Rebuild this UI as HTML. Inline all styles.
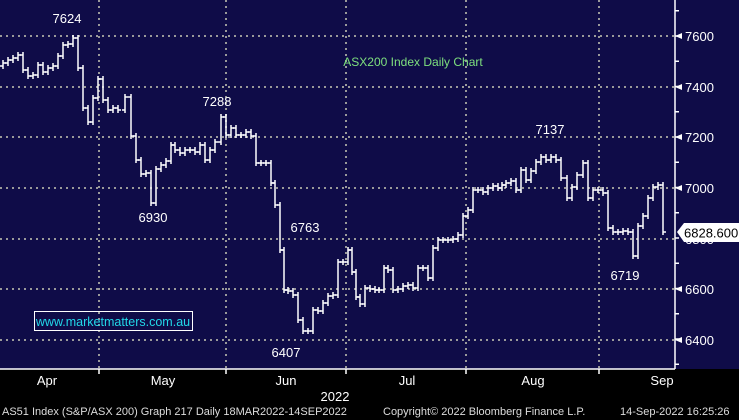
<!DOCTYPE html>
<html><head><style>
body{margin:0;background:#000;}
svg{display:block;font-family:"Liberation Sans",sans-serif;}
</style></head><body>
<svg id="s" width="739" height="420" xmlns="http://www.w3.org/2000/svg">
<rect width="739" height="420" fill="#000"/>
<rect x="0" y="0" width="739" height="369" fill="#0f0c48"/>
<g stroke="#9a9a9a" stroke-width="2" stroke-dasharray="2,4">
<line x1="0" y1="36" x2="675" y2="36"/><line x1="0" y1="87" x2="675" y2="87"/>
<line x1="0" y1="137" x2="675" y2="137"/><line x1="0" y1="188" x2="675" y2="188"/>
<line x1="0" y1="239" x2="675" y2="239"/><line x1="0" y1="289" x2="675" y2="289"/>
<line x1="0" y1="340" x2="675" y2="340"/>
<line x1="99" y1="0" x2="99" y2="369"/><line x1="226" y1="0" x2="226" y2="369"/>
<line x1="346" y1="0" x2="346" y2="369"/><line x1="466" y1="0" x2="466" y2="369"/>
<line x1="599" y1="0" x2="599" y2="369"/>
</g>
<g id="bars" stroke="#fff" stroke-width="1.5" fill="none"></g>
<line x1="675" y1="0" x2="675" y2="369" stroke="#fff" stroke-width="1.5"/>
<line x1="0" y1="369" x2="675" y2="369" stroke="#fff" stroke-width="1.5"/>
<g stroke="#fff" stroke-width="1.5">
<line x1="99" y1="369" x2="99" y2="374"/><line x1="226" y1="369" x2="226" y2="374"/>
<line x1="346" y1="369" x2="346" y2="374"/><line x1="466" y1="369" x2="466" y2="374"/>
<line x1="599" y1="369" x2="599" y2="374"/>
</g>
<g id="ticks" stroke="#fff" stroke-width="1.5"></g>
<g fill="#fff" font-size="13">
<text x="685" y="41">7600</text><text x="685" y="92">7400</text><text x="685" y="142">7200</text>
<text x="685" y="193">7000</text><text x="685" y="294">6600</text><text x="685" y="345">6400</text>
<text x="685" y="244">6800</text>
</g>
<polygon points="675,36 682,33 682,39" fill="#fff"/><polygon points="675,87 682,84 682,90" fill="#fff"/>
<polygon points="675,137 682,134 682,140" fill="#fff"/><polygon points="675,188 682,185 682,191" fill="#fff"/>
<polygon points="675,289 682,286 682,292" fill="#fff"/><polygon points="675,340 682,337 682,343" fill="#fff"/>
<polygon points="677,232 684,223 739,223 739,242 684,242" fill="#fff"/>
<text x="684" y="237.5" font-size="13" fill="#000">6828.600</text>
<g fill="#fff" font-size="13" text-anchor="middle">
<text x="67" y="23">7624</text><text x="217" y="106">7288</text><text x="153" y="222">6930</text>
<text x="305" y="232">6763</text><text x="286" y="357">6407</text><text x="550" y="134">7137</text>
<text x="625" y="280">6719</text>
</g>
<text x="413" y="66" font-size="12" fill="#7ee07e" text-anchor="middle">ASX200 Index Daily Chart</text>
<rect x="34.5" y="311.5" width="158" height="19" fill="none" stroke="#fff" stroke-width="1"/>
<text x="113" y="326" font-size="12.5" fill="#22d8e8" text-anchor="middle">www.marketmatters.com.au</text>
<g fill="#fff" font-size="13" text-anchor="middle">
<text x="47" y="385">Apr</text><text x="163" y="385">May</text><text x="286" y="385">Jun</text>
<text x="407" y="385">Jul</text><text x="533" y="385">Aug</text><text x="662" y="385">Sep</text>
<text x="335" y="401">2022</text>
</g>
<g fill="#ddd" font-size="11">
<text x="2" y="415">AS51 Index (S&amp;P/ASX 200) Graph 217  Daily 18MAR2022-14SEP2022</text>
<text x="383" y="415">Copyright© 2022 Bloomberg Finance L.P.</text>
<text x="620" y="415">14-Sep-2022 16:25:26</text>
</g>
</svg>
<script>
var p=[[0,63],[5,60],[10,58],[15,55],[20,70],[25,76],[30,75],[35,65],[40,72],[45,68],[50,66],[55,56],[60,45],[65,44],[70,38],[75,68],[80,108],[85,122],[90,98],[95,79],[100,100],[105,110],[110,108],[115,110],[122,97],[128,136],[133,160],[138,174],[143,173],[148,203],[153,169],[158,165],[163,161],[168,145],[172,150],[177,153],[182,150],[187,150],[192,152],[197,145],[202,160],[207,150],[212,142],[218,117],[223,135],[228,128],[233,135],[238,135],[243,132],[248,136],[253,163],[258,163],[263,163],[268,183],[272,205],[277,250],[281,290],[285,291],[290,295],[295,320],[300,331],[305,331],[310,310],[315,311],[320,303],[325,296],[330,295],[335,262],[340,262],[345,250],[349,272],[353,297],[357,304],[362,288],[367,289],[372,290],[376,290],[381,268],[385,270],[390,290],[395,289],[400,286],[405,285],[410,288],[415,268],[420,268],[425,278],[430,248],[435,240],[440,240],[445,240],[450,239],[455,235],[460,216],[465,210],[470,190],[475,190],[480,192],[485,188],[490,186],[495,188],[499,185],[503,183],[508,181],[513,190],[518,170],[523,180],[528,171],[533,162],[538,157],[543,160],[548,157],[553,160],[558,178],[564,198],[569,187],[574,175],[580,163],[585,198],[590,190],[595,190],[600,193],[605,228],[610,232],[615,232],[620,231],[625,232],[630,256],[635,226],[640,216],[645,198],[650,187],[655,185],[660,232]];
var g=document.getElementById('bars'),h='';
for(var i=0;i<p.length;i++){var x=p[i][0]+3,y=p[i][1],py=i?p[i-1][1]:y+3;
var a=Math.min(py,y)-3,b=Math.max(py,y)+3;
h+='<line x1="'+x+'" y1="'+a+'" x2="'+x+'" y2="'+b+'"/><line x1="'+(x-3)+'" y1="'+py+'" x2="'+x+'" y2="'+py+'"/><line x1="'+x+'" y1="'+y+'" x2="'+(x+3)+'" y2="'+y+'"/>';}
g.innerHTML=h;
var t='';for(var v=6300;v<=7700;v+=100){var yy=36+(7600-v)*0.2525;if(yy>0&&yy<369)t+='<line x1="675" y1="'+yy+'" x2="679" y2="'+yy+'"/>';}
document.getElementById('ticks').innerHTML=t;
</script>
</body></html>
